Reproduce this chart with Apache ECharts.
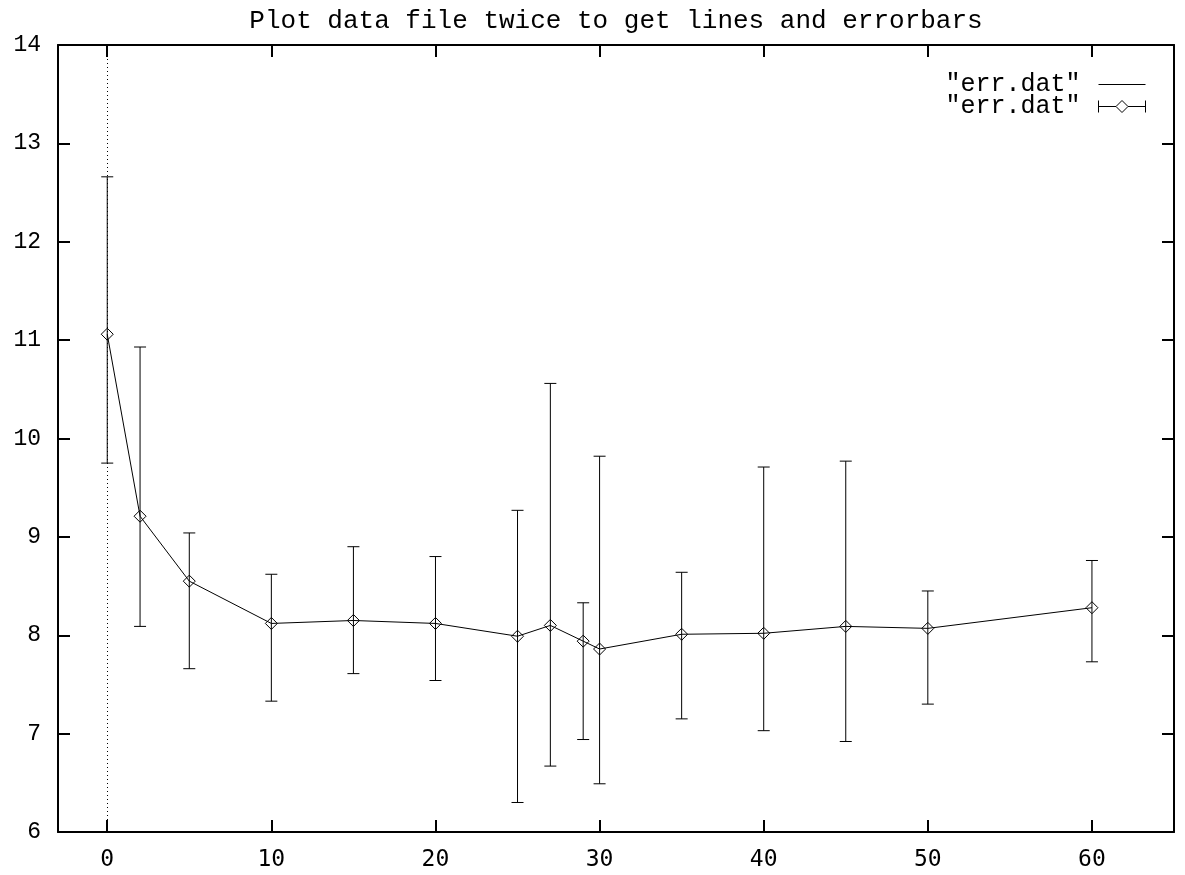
<!DOCTYPE html>
<html>
<head>
<meta charset="utf-8">
<style>html,body{margin:0;padding:0;background:#fff}#chart{width:1185px;height:875px}</style>
<script src="https://cdn.jsdelivr.net/npm/echarts@6/dist/echarts.min.js"></script>
</head>
<body>
<div id="chart"></div>
<script>
const titleText = 'Plot data file twice to get lines and errorbars';
const legendLabels = ['"err.dat"', '"err.dat"'];
const xs    = [0, 2, 5, 10, 15, 20, 25, 27, 29, 30, 35, 40, 45, 50, 60];
const ys    = [11.06, 9.21, 8.55, 8.12, 8.15, 8.12, 7.99, 8.10, 7.94, 7.86, 8.01, 8.02, 8.09, 8.07, 8.28];
const yLow  = [9.75, 8.09, 7.66, 7.33, 7.61, 7.54, 6.30, 6.67, 6.94, 6.49, 7.15, 7.03, 6.92, 7.30, 7.73];
const yHigh = [12.66, 10.93, 9.04, 8.62, 8.90, 8.80, 9.27, 10.56, 8.33, 9.82, 8.64, 9.71, 9.77, 8.45, 8.76];
const xTicks = [0, 10, 20, 30, 40, 50, 60];
const xMin = -3, xMax = 65, yMin = 6, yMax = 14, yStep = 1;

const lineData = xs.map((x, i) => [x, ys[i]]);
const errData = xs.map((x, i) => [x, ys[i], yLow[i], yHigh[i]]);

const chart = echarts.init(document.getElementById('chart'), null, {renderer: 'canvas'});
const axisLineStyle = {color: '#000', width: 2};
const tickStyle = {color: '#000', width: 2};

chart.setOption({
  animation: false,
  backgroundColor: '#fff',
  title: {
    text: titleText,
    left: 616, top: 8, padding: 0, textAlign: 'center',
    textStyle: {fontFamily: 'Liberation Mono', fontSize: 26, fontWeight: 'normal', color: '#000'}
  },
  legend: {
    orient: 'vertical', right: 37, top: 72, align: 'right',
    itemWidth: 47, itemHeight: 12, itemGap: -3, padding: 0,
    formatter: function (name) { return name === 'lines' ? legendLabels[0] : legendLabels[1]; },
    textStyle: {fontFamily: 'Liberation Mono', fontSize: 25, color: '#000', padding: [0, 13, 0, 0]},
    data: [
      {name: 'lines',
       icon: 'path://M0 1 M0 7 L47 7 M47 13',
       itemStyle: {color: 'none', borderColor: '#000', borderWidth: 1}},
      {name: 'errorbars',
       icon: 'path://M0 1 L0 13 M0 7 L17.5 7 M29.5 7 L47 7 M47 1 L47 13 M23.5 1 L29.5 7 L23.5 13 L17.5 7 Z',
       itemStyle: {color: 'none', borderColor: '#000', borderWidth: 1}}
    ]
  },
  grid: {left: 58, right: 11, top: 45, bottom: 43, containLabel: false},
  xAxis: [{
    type: 'value', min: xMin, max: xMax, position: 'bottom',
    axisLine: {show: true, onZero: false, lineStyle: axisLineStyle},
    axisTick: {show: true, inside: true, length: 12, customValues: xTicks, lineStyle: tickStyle},
    axisLabel: {customValues: xTicks, margin: 17, fontFamily: 'DejaVu Sans Mono', fontSize: 23, color: '#000'},
    splitLine: {show: false}
  }, {
    type: 'value', min: xMin, max: xMax, position: 'top',
    axisLine: {show: true, onZero: false, lineStyle: axisLineStyle},
    axisTick: {show: true, inside: true, length: 12, customValues: xTicks, lineStyle: tickStyle},
    axisLabel: {show: false},
    splitLine: {show: false}
  }],
  yAxis: [{
    type: 'value', min: yMin, max: yMax, interval: yStep, position: 'left',
    axisLine: {show: true, onZero: false, lineStyle: axisLineStyle},
    axisTick: {show: true, inside: true, length: 12, lineStyle: tickStyle},
    axisLabel: {margin: 17, fontFamily: 'Liberation Mono', fontSize: 23, color: '#000'},
    splitLine: {show: false}
  }, {
    type: 'value', min: yMin, max: yMax, interval: yStep, position: 'right',
    axisLine: {show: true, onZero: false, lineStyle: axisLineStyle},
    axisTick: {show: true, inside: true, length: 12, lineStyle: tickStyle},
    axisLabel: {show: false},
    splitLine: {show: false}
  }],
  series: [{
    name: 'lines', type: 'line', data: lineData,
    xAxisIndex: 0, yAxisIndex: 0,
    symbol: 'none', showSymbol: false,
    lineStyle: {color: '#000', width: 1},
    itemStyle: {color: '#000'},
    markLine: {
      silent: true, symbol: ['none', 'none'], label: {show: false},
      lineStyle: {color: '#000', width: 1, type: [1, 3]},
      data: [{xAxis: 0}]
    },
    z: 2
  }, {
    name: 'errorbars', type: 'custom', data: errData,
    xAxisIndex: 0, yAxisIndex: 0,
    itemStyle: {color: '#000'},
    encode: {x: 0, y: [1, 2, 3]},
    renderItem: function (params, api) {
      const x = api.value(0);
      const p = api.coord([x, api.value(1)]);
      const pl = api.coord([x, api.value(2)]);
      const ph = api.coord([x, api.value(3)]);
      const w = 6, r = 6;
      const st = {stroke: '#000', lineWidth: 1, fill: null};
      return {type: 'group', children: [
        {type: 'line', shape: {x1: pl[0], y1: pl[1], x2: ph[0], y2: ph[1]}, style: st},
        {type: 'line', shape: {x1: pl[0] - w, y1: pl[1], x2: pl[0] + w, y2: pl[1]}, style: st},
        {type: 'line', shape: {x1: ph[0] - w, y1: ph[1], x2: ph[0] + w, y2: ph[1]}, style: st},
        {type: 'polygon', shape: {points: [[p[0], p[1] - r], [p[0] + r, p[1]], [p[0], p[1] + r], [p[0] - r, p[1]]]},
         style: {stroke: '#000', lineWidth: 1, fill: 'none'}}
      ]};
    },
    z: 3
  }]
});
</script>
</body>
</html>
